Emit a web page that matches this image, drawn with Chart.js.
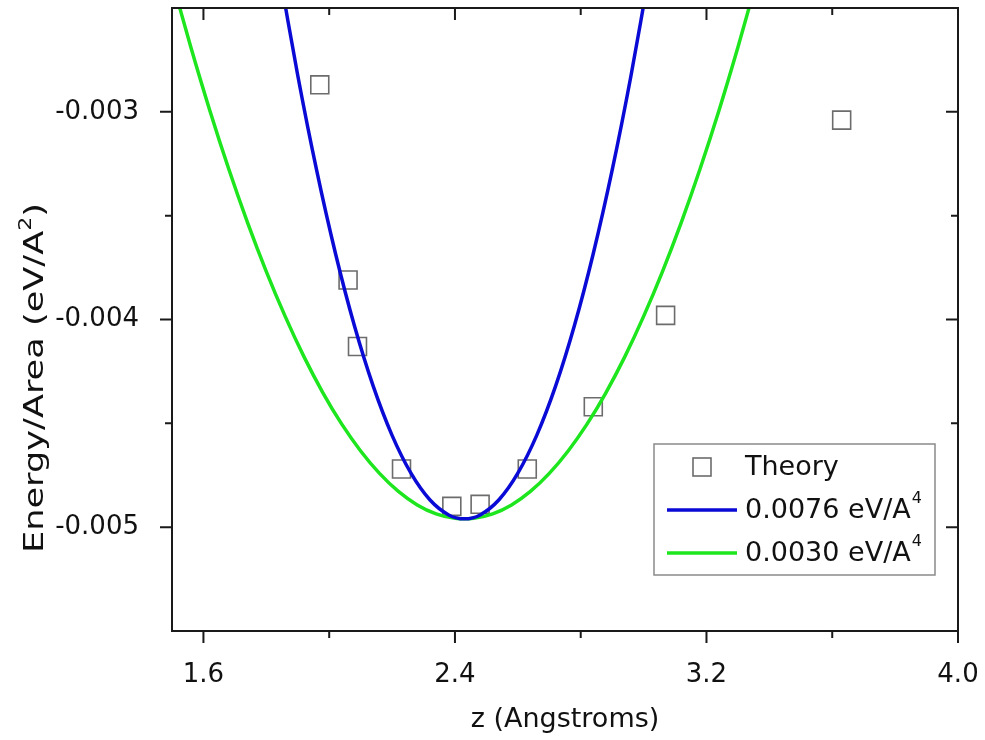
<!DOCTYPE html>
<html lang="en">
<head>
  <meta charset="UTF-8">
  <title>Energy/Area vs z</title>
  <script src="https://cdn.jsdelivr.net/npm/chart.js"></script>
  <style>
    body { margin: 0; background: #fff; }
    canvas { display: block; }
  </style>
</head>
<body>
<canvas id="energyChart" width="985" height="740"></canvas>

<script>
  // data
  const theoryZ = [1.97, 2.06, 2.09, 2.23, 2.39, 2.48, 2.63, 2.84, 3.07, 3.63];
  const theoryE = [-0.00287, -0.00381, -0.00413, -0.00472, -0.00490, -0.00489, -0.00472, -0.00442, -0.00398, -0.00304];

  // 0.0076 eV/A^4 curve (blue)
  const stiffZ = [1.84, 1.90, 1.96, 2.02, 2.08, 2.14, 2.20, 2.26, 2.32, 2.38, 2.43,
                  2.48, 2.54, 2.60, 2.66, 2.72, 2.78, 2.84, 2.90, 2.96, 3.02];
  const stiffE = [-0.002314, -0.002825, -0.003281, -0.003682, -0.004029, -0.004321, -0.004558, -0.004740, -0.004868, -0.004941, -0.004960,
                  -0.004941, -0.004868, -0.004740, -0.004558, -0.004321, -0.004029, -0.003682, -0.003281, -0.002825, -0.002314];

  // 0.0030 eV/A^4 curve (green)
  const softZ = [1.50, 1.56, 1.62, 1.68, 1.74, 1.80, 1.86, 1.92, 1.98, 2.04, 2.10, 2.16, 2.22, 2.28, 2.34, 2.40,
                 2.46, 2.52, 2.58, 2.64, 2.70, 2.76, 2.82, 2.88, 2.94, 3.00, 3.06, 3.12, 3.18, 3.24, 3.30, 3.36];
  const softE = [-0.002365, -0.002689, -0.002992, -0.003273, -0.003532, -0.003769, -0.003985, -0.004180, -0.004353, -0.004504, -0.004633, -0.004741, -0.004828, -0.004893, -0.004936, -0.004957,
                 -0.004957, -0.004936, -0.004893, -0.004828, -0.004741, -0.004633, -0.004504, -0.004353, -0.004180, -0.003985, -0.003769, -0.003532, -0.003273, -0.002992, -0.002689, -0.002365];

  const xTicks = [1.6, 2.4, 3.2, 4.0];
  const xMinor = [2.0, 2.8, 3.6];
  const yTicks = [-0.005, -0.004, -0.003];
  const yMinor = [-0.0045, -0.0035];

  const legendLabels = ['Theory', '0.0076 eV/A', '0.0030 eV/A'];

  const FONT = 'DejaVu Sans';
  const BLUE = '#0a0ad6';
  const GREEN = '#1ee61e';
  const GREY = '#6c6c6c';

  const toPoints = (xs, ys) => xs.map((x, i) => ({ x: x, y: ys[i] }));

  const noPad = s => {
    s.paddingLeft = 0; s.paddingRight = 0;
    s.paddingTop = 0; s.paddingBottom = 0;
  };

  // frame with ticks on all four sides, y title and the boxed legend
  const framePlugin = {
    id: 'frame',
    afterDatasetsDraw(chart) {
      const ctx = chart.ctx;
      const a = chart.chartArea;
      const xs = chart.scales.x, ys = chart.scales.y;
      ctx.save();
      ctx.strokeStyle = '#1a1a1a';
      ctx.lineWidth = 2;
      ctx.strokeRect(a.left, a.top, a.right - a.left, a.bottom - a.top);
      ctx.beginPath();
      const tickX = (vals, len) => vals.forEach(v => {
        const px = xs.getPixelForValue(v);
        ctx.moveTo(px, a.bottom); ctx.lineTo(px, a.bottom + len);
        ctx.moveTo(px, a.top); ctx.lineTo(px, a.top + len);
      });
      const tickY = (vals, len) => vals.forEach(v => {
        const py = ys.getPixelForValue(v);
        ctx.moveTo(a.left, py); ctx.lineTo(a.left - len, py);
        ctx.moveTo(a.right, py); ctx.lineTo(a.right - len, py);
      });
      tickX(xTicks, 12); tickX(xMinor, 7);
      tickY(yTicks, 12); tickY(yMinor, 7);
      ctx.stroke();
      ctx.restore();
    },
    afterDraw(chart) {
      const ctx = chart.ctx;
      ctx.save();
      ctx.fillStyle = '#111';

      // y axis title, rotated, with superscript
      ctx.translate(43, 378);
      ctx.rotate(-Math.PI / 2);
      ctx.font = '27px "' + FONT + '"';
      const t1 = 'Energy/Area (eV/A', t3 = ')';
      const w1 = ctx.measureText(t1).width, w3 = ctx.measureText(t3).width;
      ctx.font = '17px "' + FONT + '"';
      const w2 = ctx.measureText('2').width;
      const total = w1 + w2 + w3;
      ctx.scale(350 / total, 1);
      ctx.textBaseline = 'alphabetic';
      ctx.textAlign = 'left';
      let sx = -total / 2;
      ctx.font = '27px "' + FONT + '"';
      ctx.fillText(t1, sx, 0);
      ctx.font = '17px "' + FONT + '"';
      ctx.fillText('2', sx + w1, -12);
      ctx.font = '27px "' + FONT + '"';
      ctx.fillText(t3, sx + w1 + w2, 0);
      ctx.restore();

      // legend box
      ctx.save();
      ctx.strokeStyle = '#8a8a8a';
      ctx.lineWidth = 1.5;
      ctx.fillStyle = '#fff';
      ctx.fillRect(654, 444, 281, 131);
      ctx.strokeRect(654, 444, 281, 131);
      const rows = [467, 510, 553];
      ctx.strokeStyle = GREY;
      ctx.lineWidth = 1.6;
      ctx.strokeRect(693, rows[0] - 9, 18, 18);
      ctx.lineWidth = 3.5;
      ctx.strokeStyle = BLUE;
      ctx.beginPath(); ctx.moveTo(667, rows[1]); ctx.lineTo(737, rows[1]); ctx.stroke();
      ctx.strokeStyle = GREEN;
      ctx.beginPath(); ctx.moveTo(667, rows[2]); ctx.lineTo(737, rows[2]); ctx.stroke();
      ctx.fillStyle = '#111';
      ctx.textBaseline = 'middle';
      ctx.font = '27px "' + FONT + '"';
      legendLabels.forEach((txt, i) => {
        ctx.fillText(txt, 745, rows[i] + 1);
        if (i > 0) {
          const w = ctx.measureText(txt).width;
          ctx.font = '16px "' + FONT + '"';
          ctx.fillText('4', 745 + w + 1, rows[i] - 11);
          ctx.font = '27px "' + FONT + '"';
        }
      });
      ctx.restore();
    }
  };

  new Chart(document.getElementById('energyChart'), {
    type: 'scatter',
    data: {
      datasets: [
        {
          label: '0.0076 eV/A4',
          data: toPoints(stiffZ, stiffE),
          showLine: true,
          borderColor: BLUE,
          borderWidth: 3.5,
          pointRadius: 0,
          tension: 0.3
        },
        {
          label: '0.0030 eV/A4',
          data: toPoints(softZ, softE),
          showLine: true,
          borderColor: GREEN,
          borderWidth: 3.5,
          pointRadius: 0,
          tension: 0.3
        },
        {
          label: 'Theory',
          data: toPoints(theoryZ, theoryE),
          pointStyle: 'rect',
          pointRadius: 12.7,
          pointBorderWidth: 1.6,
          borderColor: GREY,
          backgroundColor: 'rgba(0,0,0,0)'
        }
      ]
    },
    options: {
      responsive: false,
      animation: false,
      layout: { autoPadding: false, padding: { top: 8, right: 27, left: 0, bottom: 0 } },
      plugins: {
        legend: { display: false },
        tooltip: { enabled: false }
      },
      scales: {
        x: {
          type: 'linear',
          min: 1.5,
          max: 4.0,
          grid: { display: false },
          border: { display: false },
          afterBuildTicks: s => { s.ticks = xTicks.map(v => ({ value: v })); },
          afterFit: s => { s.height = 109; noPad(s); },
          ticks: {
            padding: 21,
            color: '#111',
            font: { family: FONT, size: 26 },
            callback: v => v.toFixed(1)
          },
          title: {
            display: true,
            text: 'z (Angstroms)',
            color: '#111',
            font: { family: FONT, size: 27 },
            padding: { top: 0, bottom: 4 }
          }
        },
        y: {
          type: 'linear',
          min: -0.0055,
          max: -0.0025,
          grid: { display: false },
          border: { display: false },
          afterBuildTicks: s => { s.ticks = yTicks.map(v => ({ value: v })); },
          afterFit: s => { s.width = 172; noPad(s); },
          ticks: {
            padding: 25,
            color: '#111',
            font: { family: FONT, size: 26 },
            callback: v => v.toFixed(3)
          }
        }
      }
    },
    plugins: [framePlugin]
  });
</script>
</body>
</html>
